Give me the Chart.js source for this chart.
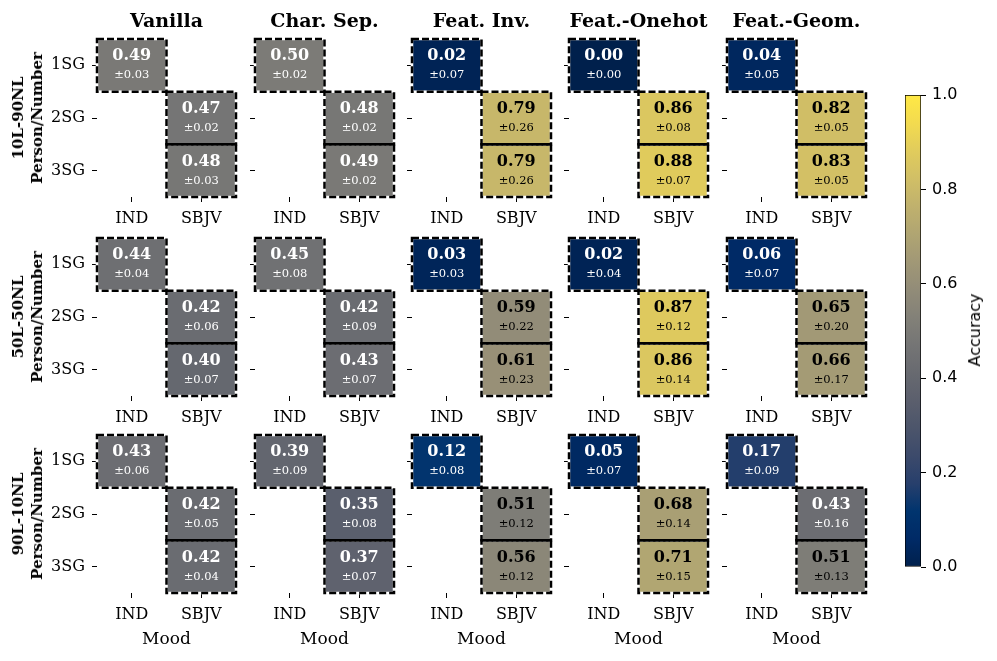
<!DOCTYPE html>
<html>
<head>
<meta charset="utf-8">
<script src="https://cdn.jsdelivr.net/npm/chart.js@4.4.1/dist/chart.umd.min.js"></script>
<style>
  html, body { margin: 0; padding: 0; background: #fff; }
  #fig { position: relative; width: 997px; height: 661px; overflow: hidden; font-family: "DejaVu Serif", serif; color: #000; }
  #fig canvas { position: absolute; }
  .lbl { position: absolute; white-space: nowrap; line-height: 1; transform: translate(-50%, -50%); }
  .title { font-weight: bold; font-size: 19px; }
  .rowlbl { font-weight: bold; font-size: 15px; line-height: 19px; text-align: center; transform: translate(-50%, -50%) rotate(-90deg); }
  .xlbl { font-size: 17px; }
  .cblbl { font-family: "DejaVu Sans", sans-serif; font-size: 16px; transform: translate(-50%, -50%) rotate(-90deg); }
</style>
</head>
<body>
<div id="fig"></div>
<script>
// ---- data ----
const methods = ["Vanilla", "Char. Sep.", "Feat. Inv.", "Feat.-Onehot", "Feat.-Geom."];
const splits = ["10L-90NL", "50L-50NL", "90L-10NL"];
const moods = ["IND", "SBJV"];
const persons = ["1SG", "2SG", "3SG"];
// the three filled cells of every panel
const cellPerson = ["1SG", "2SG", "3SG"];
const cellMood = ["IND", "SBJV", "SBJV"];

// one row per method, values in cell order above
const means10 = [[0.49, 0.47, 0.48], [0.50, 0.48, 0.49], [0.02, 0.79, 0.79], [0.00, 0.86, 0.88], [0.04, 0.82, 0.83]];
const stds10 = [[0.03, 0.02, 0.03], [0.02, 0.02, 0.02], [0.07, 0.26, 0.26], [0.00, 0.08, 0.07], [0.05, 0.05, 0.05]];
const means50 = [[0.44, 0.42, 0.40], [0.45, 0.42, 0.43], [0.03, 0.59, 0.61], [0.02, 0.87, 0.86], [0.06, 0.65, 0.66]];
const stds50 = [[0.04, 0.06, 0.07], [0.08, 0.09, 0.07], [0.03, 0.22, 0.23], [0.04, 0.12, 0.14], [0.07, 0.20, 0.17]];
const means90 = [[0.43, 0.42, 0.42], [0.39, 0.35, 0.37], [0.12, 0.51, 0.56], [0.05, 0.68, 0.71], [0.17, 0.43, 0.51]];
const stds90 = [[0.06, 0.05, 0.04], [0.09, 0.08, 0.07], [0.08, 0.12, 0.12], [0.07, 0.14, 0.15], [0.09, 0.16, 0.13]];

const colorbarTicks = [0, 0.2, 0.4, 0.6, 0.8, 1.0];

// ---- colour map (cividis) ----
const cividisStops = [
  [0, 32, 76], [0, 42, 102], [0, 52, 110], [39, 63, 108], [60, 74, 107], [76, 85, 107],
  [91, 95, 109], [104, 106, 112], [117, 117, 117], [131, 129, 120], [146, 140, 120],
  [161, 152, 118], [176, 165, 114], [192, 177, 109], [209, 191, 102], [225, 204, 92],
  [243, 219, 79], [255, 233, 69]
];

function cividis(v) {
  const t = Math.max(0, Math.min(1, v)) * (cividisStops.length - 1);
  const i = Math.min(Math.floor(t), cividisStops.length - 2);
  const f = t - i;
  const a = cividisStops[i], b = cividisStops[i + 1];
  const c = a.map(function (x, k) { return Math.round(x + (b[k] - x) * f); });
  return "rgb(" + c.join(",") + ")";
}

// ---- layout ----
const fig = document.getElementById("fig");
const panelX = [97, 255, 412, 569, 727];
const panelY = [39, 238, 435];
const panelW = 139;
const panelH = 158;
const yAxisW = 90;
const xAxisH = 40;
const padTop = 10;
const padRight = 10;

Chart.defaults.font.family = '"DejaVu Serif", serif';
Chart.defaults.font.size = 16;
Chart.defaults.color = "#000";

// keep tick labels from pushing the plot area around
function noScalePadding(s) {
  s.paddingTop = 0;
  s.paddingBottom = 0;
  s.paddingLeft = 0;
  s.paddingRight = 0;
}

const cellDecor = {
  id: "cellDecor",
  afterDatasetsDraw: function (chart) {
    const ctx = chart.ctx;
    const rects = [];
    chart.data.datasets.forEach(function (ds, i) {
      const meta = chart.getDatasetMeta(i);
      meta.data.forEach(function (bar, j) {
        if (ds.data[j] == null) return;
        const p = bar.getProps(["x", "y", "base", "width"], true);
        rects.push({
          left: p.x - p.width / 2, right: p.x + p.width / 2,
          top: Math.min(p.y, p.base), bottom: Math.max(p.y, p.base),
          col: j, mean: ds.mean, std: ds.std
        });
      });
    });

    ctx.save();
    ctx.textAlign = "center";
    ctx.textBaseline = "middle";
    rects.forEach(function (r) {
      const cx = (r.left + r.right) / 2;
      const cy = (r.top + r.bottom) / 2;
      ctx.fillStyle = r.mean > 0.5 ? "#000" : "#fff";
      ctx.font = 'bold 16px "DejaVu Serif"';
      ctx.fillText(r.mean.toFixed(2), cx, cy - 9);
      ctx.font = '11.5px "DejaVu Serif"';
      ctx.fillText("\u00b1" + r.std.toFixed(2), cx, cy + 10);
    });

    ctx.lineWidth = 2.5;
    rects.forEach(function (r) {
      ctx.setLineDash([]);
      ctx.strokeStyle = "#fff";
      ctx.strokeRect(r.left, r.top, r.right - r.left, r.bottom - r.top);
    });
    rects.forEach(function (r) {
      ctx.setLineDash([7, 3]);
      ctx.strokeStyle = "#000";
      ctx.strokeRect(r.left, r.top, r.right - r.left, r.bottom - r.top);
    });
    // solid separator between stacked cells of the same column
    ctx.setLineDash([]);
    rects.forEach(function (a) {
      rects.forEach(function (b) {
        if (a !== b && a.col === b.col && Math.abs(a.bottom - b.top) < 1) {
          ctx.beginPath();
          ctx.moveTo(a.left, a.bottom);
          ctx.lineTo(a.right, a.bottom);
          ctx.stroke();
        }
      });
    });
    ctx.restore();
  }
};

function addLabel(text, x, y, cls) {
  const el = document.createElement("div");
  el.className = "lbl " + cls;
  el.innerHTML = text;
  el.style.left = x + "px";
  el.style.top = y + "px";
  fig.appendChild(el);
}

function makePanel(r, c, means, stds) {
  const canvas = document.createElement("canvas");
  canvas.width = yAxisW + panelW + padRight;
  canvas.height = padTop + panelH + xAxisH;
  canvas.style.left = (panelX[c] - yAxisW) + "px";
  canvas.style.top = (panelY[r] - padTop) + "px";
  fig.appendChild(canvas);

  const datasets = cellPerson.map(function (person, k) {
    const row = persons.indexOf(person);
    return {
      data: moods.map(function (m) { return m === cellMood[k] ? [row, row + 1] : null; }),
      backgroundColor: cividis(means[c][k]),
      borderWidth: 0,
      mean: means[c][k],
      std: stds[c][k]
    };
  });

  new Chart(canvas, {
    type: "bar",
    data: { labels: moods, datasets: datasets },
    options: {
      responsive: false,
      animation: false,
      events: [],
      layout: { padding: { top: padTop, right: padRight, left: 0, bottom: 0 } },
      datasets: { bar: { grouped: false, barPercentage: 1, categoryPercentage: 1 } },
      plugins: { legend: { display: false }, tooltip: { enabled: false } },
      scales: {
        x: {
          offset: true,
          grid: { display: true, offset: false, drawOnChartArea: false, drawTicks: true, tickLength: 5, color: "#000" },
          border: { display: false },
          ticks: { padding: 7, maxRotation: 0 },
          afterFit: function (s) { s.height = xAxisH; noScalePadding(s); }
        },
        y: {
          type: "linear",
          min: 0,
          max: 3,
          reverse: true,
          grid: { display: true, drawOnChartArea: false, drawTicks: true, tickLength: 5, color: "#000" },
          border: { display: false },
          ticks: {
            display: c === 0,
            padding: 7,
            callback: function (v) { return persons[Math.floor(v)]; }
          },
          afterBuildTicks: function (s) {
            s.ticks = persons.map(function (_, i) { return { value: i + 0.5 }; });
          },
          afterFit: function (s) { s.width = yAxisW; noScalePadding(s); }
        }
      }
    },
    plugins: [cellDecor]
  });
}

const allMeans = [means10, means50, means90];
const allStds = [stds10, stds50, stds90];

splits.forEach(function (split, r) {
  methods.forEach(function (m, c) {
    makePanel(r, c, allMeans[r], allStds[r]);
  });
  addLabel(split + "<br>Person/Number", 28, panelY[r] + panelH / 2, "rowlbl");
});

methods.forEach(function (m, c) {
  addLabel(m, panelX[c] + panelW / 2, 20, "title");
  addLabel("Mood", panelX[c] + panelW / 2, 638, "xlbl");
});

// ---- colour bar ----
const cbCanvas = document.createElement("canvas");
const cbTop = 95, cbLeft = 905, cbW = 16, cbH = 472;
cbCanvas.width = cbW + 70;
cbCanvas.height = cbH + 20;
cbCanvas.style.left = cbLeft + "px";
cbCanvas.style.top = (cbTop - 10) + "px";
fig.appendChild(cbCanvas);

new Chart(cbCanvas, {
  type: "bar",
  data: {
    labels: ["Accuracy"],
    datasets: [{
      data: [[0, 1]],
      borderColor: "#000",
      borderWidth: 1,
      borderSkipped: false,
      backgroundColor: function (ctx) {
        const area = ctx.chart.chartArea;
        if (!area) return null;
        const g = ctx.chart.ctx.createLinearGradient(0, area.bottom, 0, area.top);
        cividisStops.forEach(function (s, i) {
          g.addColorStop(i / (cividisStops.length - 1), "rgb(" + s.join(",") + ")");
        });
        return g;
      }
    }]
  },
  options: {
    responsive: false,
    animation: false,
    events: [],
    layout: { padding: { top: 10, bottom: 10, left: 0, right: 0 } },
    datasets: { bar: { barPercentage: 1, categoryPercentage: 1 } },
    plugins: { legend: { display: false }, tooltip: { enabled: false } },
    scales: {
      x: { display: false },
      y: {
        position: "right",
        min: 0,
        max: 1,
        grid: { display: true, drawOnChartArea: false, drawTicks: true, tickLength: 5, color: "#000" },
        border: { display: false },
        ticks: {
          padding: 6,
          font: { family: '"DejaVu Sans", sans-serif', size: 16 },
          callback: function (v) { return Number(v).toFixed(1); }
        },
        afterBuildTicks: function (s) {
          s.ticks = colorbarTicks.map(function (v) { return { value: v }; });
        },
        afterFit: function (s) { s.width = 70; noScalePadding(s); }
      }
    }
  }
});
addLabel("Accuracy", 975, 330, "cblbl");
</script>
</body>
</html>
